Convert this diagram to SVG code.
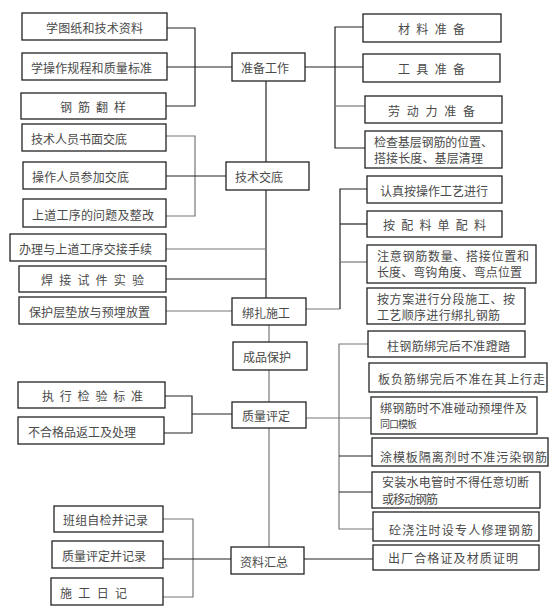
<svg xmlns="http://www.w3.org/2000/svg" width="554" height="612" viewBox="0 0 554 612">
<style>
rect{fill:#fff;stroke:#222;stroke-width:1.3}
.c line,.c polyline{fill:none;stroke:#222;stroke-width:1.2}
.c .g{stroke:#777}
text{font-family:"Noto Sans CJK SC","Noto Sans CJK JP",sans-serif;font-size:12px;fill:#4a4a4a;dominant-baseline:central}
</style>
<rect x="0" y="0" width="554" height="612" style="stroke:none"/>
<g class="c" id="connectors">
<polyline points="167,28 195,28 195,106 166,106"/>
<line x1="167" y1="67" x2="232" y2="67"/>
<line x1="305" y1="67" x2="363" y2="67"/>
<polyline points="363,27 335,27 335,148 365,148"/>
<line class="g" x1="335" y1="106" x2="365" y2="106"/>
<line x1="266" y1="81" x2="266" y2="162"/>
<polyline class="g" points="166,136 195,136 195,216 166,216"/>
<line x1="166" y1="176" x2="226" y2="176"/>
<line x1="266" y1="190" x2="266" y2="298"/>
<line class="g" x1="166" y1="249" x2="266" y2="249"/>
<line x1="166" y1="279" x2="266" y2="279"/>
<line class="g" x1="166" y1="311" x2="232" y2="311"/>
<line class="g" x1="306" y1="309" x2="340" y2="309"/>
<polyline points="367,189 340,189 340,309"/>
<line x1="340" y1="224" x2="367" y2="224"/>
<line class="g" x1="340" y1="262" x2="367" y2="262"/>
<line class="g" x1="269" y1="325" x2="269" y2="342"/>
<line class="g" x1="269" y1="370" x2="269" y2="402"/>
<polyline class="g" points="368,344 339,344 339,529 373,529"/>
<line class="g" x1="306" y1="418" x2="371" y2="418"/>
<line x1="339" y1="456" x2="372" y2="456"/>
<line x1="339" y1="492" x2="372" y2="492"/>
<polyline points="165,396 192,396 192,433 164,433"/>
<line x1="192" y1="414" x2="232" y2="414"/>
<line class="g" x1="269" y1="428" x2="269" y2="547"/>
<polyline class="g" points="163,519 193,519 193,597 163,597"/>
<line x1="163" y1="559" x2="231" y2="559"/>
<line x1="304" y1="559" x2="373" y2="559"/>
</g>
<g id="n1"><rect x="22" y="13" width="145" height="27"/><text x="46" y="27" textLength="97" lengthAdjust="spacing">学图纸和技术资料</text></g>
<g id="n2"><rect x="22" y="53" width="145" height="27"/><text x="31" y="67" textLength="121" lengthAdjust="spacing">学操作规程和质量标准</text></g>
<g id="n3"><rect x="21" y="93" width="145" height="26"/><text x="60" y="106" textLength="66" lengthAdjust="spacing">钢筋翻样</text></g>
<g id="n4"><rect x="232" y="53" width="73" height="28"/><text x="241" y="67" textLength="48" lengthAdjust="spacing">准备工作</text></g>
<g id="n5"><rect x="363" y="14" width="138" height="28"/><text x="398" y="28" textLength="67" lengthAdjust="spacing">材料准备</text></g>
<g id="n6"><rect x="363" y="54" width="137" height="28"/><text x="398" y="68" textLength="67" lengthAdjust="spacing">工具准备</text></g>
<g id="n7"><rect x="365" y="96" width="137" height="27"/><text x="388" y="110" textLength="87" lengthAdjust="spacing">劳动力准备</text></g>
<g id="n8"><rect x="365" y="131" width="137" height="37"/><text x="374" y="141" textLength="119" lengthAdjust="spacing">检查基层钢筋的位置、</text><text x="374" y="157" textLength="109" lengthAdjust="spacing">搭接长度、基层清理</text></g>
<g id="n9"><rect x="22" y="124" width="144" height="27"/><text x="31" y="138" textLength="96" lengthAdjust="spacing">技术人员书面交底</text></g>
<g id="n10"><rect x="23" y="162" width="143" height="27"/><text x="32" y="176" textLength="97" lengthAdjust="spacing">操作人员参加交底</text></g>
<g id="n11"><rect x="23" y="199" width="143" height="28"/><text x="32" y="214" textLength="122" lengthAdjust="spacing">上道工序的问题及整改</text></g>
<g id="n12"><rect x="226" y="162" width="83" height="28"/><text x="235" y="176" textLength="48" lengthAdjust="spacing">技术交底</text></g>
<g id="n13"><rect x="367" y="176" width="135" height="27"/><text x="380" y="190" textLength="108" lengthAdjust="spacing">认真按操作工艺进行</text></g>
<g id="n14"><rect x="367" y="211" width="135" height="26"/><text x="383" y="224" textLength="103" lengthAdjust="spacing">按配料单配料</text></g>
<g id="n15"><rect x="367" y="245" width="169" height="38"/><text x="377" y="255" textLength="152" lengthAdjust="spacing">注意钢筋数量、搭接位置和</text><text x="377" y="271" textLength="145" lengthAdjust="spacing">长度、弯钩角度、弯点位置</text></g>
<g id="n16"><rect x="367" y="288" width="158" height="36"/><text x="377" y="298" textLength="138" lengthAdjust="spacing">按方案进行分段施工、按</text><text x="377" y="314" textLength="123" lengthAdjust="spacing">工艺顺序进行绑扎钢筋</text></g>
<g id="n17"><rect x="10" y="234" width="156" height="27"/><text x="19" y="248" textLength="133" lengthAdjust="spacing">办理与上道工序交接手续</text></g>
<g id="n18"><rect x="19" y="266" width="147" height="26"/><text x="41" y="279" textLength="103" lengthAdjust="spacing">焊接试件实验</text></g>
<g id="n19"><rect x="19" y="297" width="147" height="27"/><text x="29" y="311" textLength="121" lengthAdjust="spacing">保护层垫放与预埋放置</text></g>
<g id="n20"><rect x="232" y="298" width="74" height="27"/><text x="242" y="312" textLength="48" lengthAdjust="spacing">绑扎施工</text></g>
<g id="n21"><rect x="233" y="342" width="74" height="28"/><text x="243" y="356" textLength="48" lengthAdjust="spacing">成品保护</text></g>
<g id="n22"><rect x="232" y="402" width="74" height="26"/><text x="242" y="415" textLength="48" lengthAdjust="spacing">质量评定</text></g>
<g id="n23"><rect x="368" y="331" width="157" height="26"/><text x="387" y="345" textLength="123" lengthAdjust="spacing">柱钢筋绑完后不准蹬踏</text></g>
<g id="n24"><rect x="369" y="363" width="178" height="29"/><text x="378" y="378" textLength="167" lengthAdjust="spacing">板负筋绑完后不准在其上行走</text></g>
<g id="n25"><rect x="371" y="397" width="166" height="37"/><text x="380" y="407" textLength="147" lengthAdjust="spacing">绑钢筋时不准碰动预埋件及</text><text x="380" y="423" style="font-size:10px" textLength="37" lengthAdjust="spacing">同口模板</text></g>
<g id="n26"><rect x="372" y="438" width="176" height="28"/><text x="380" y="456" textLength="167" lengthAdjust="spacing">涂模板隔离剂时不准污染钢筋</text></g>
<g id="n27"><rect x="372" y="472" width="168" height="36"/><text x="382" y="481" textLength="147" lengthAdjust="spacing">安装水电管时不得任意切断</text><text x="382" y="498" textLength="56" lengthAdjust="spacing">或移动钢筋</text></g>
<g id="n28"><rect x="373" y="512" width="166" height="29"/><text x="389" y="529" textLength="144" lengthAdjust="spacing">砼浇注时设专人修理钢筋</text></g>
<g id="n29"><rect x="373" y="545" width="166" height="25"/><text x="388" y="557" textLength="130" lengthAdjust="spacing">出厂合格证及材质证明</text></g>
<g id="n30"><rect x="18" y="382" width="147" height="26"/><text x="42" y="395" textLength="101" lengthAdjust="spacing">执行检验标准</text></g>
<g id="n31"><rect x="18" y="417" width="146" height="27"/><text x="28" y="431" textLength="108" lengthAdjust="spacing">不合格品返工及处理</text></g>
<g id="n32"><rect x="231" y="547" width="73" height="27"/><text x="240" y="561" textLength="48" lengthAdjust="spacing">资料汇总</text></g>
<g id="n33"><rect x="54" y="506" width="109" height="26"/><text x="63" y="519" textLength="85" lengthAdjust="spacing">班组自检并记录</text></g>
<g id="n34"><rect x="52" y="541" width="111" height="27"/><text x="62" y="555" textLength="84" lengthAdjust="spacing">质量评定并记录</text></g>
<g id="n35"><rect x="51" y="578" width="112" height="27"/><text x="60" y="592" textLength="67" lengthAdjust="spacing">施工日记</text></g>
</svg>
